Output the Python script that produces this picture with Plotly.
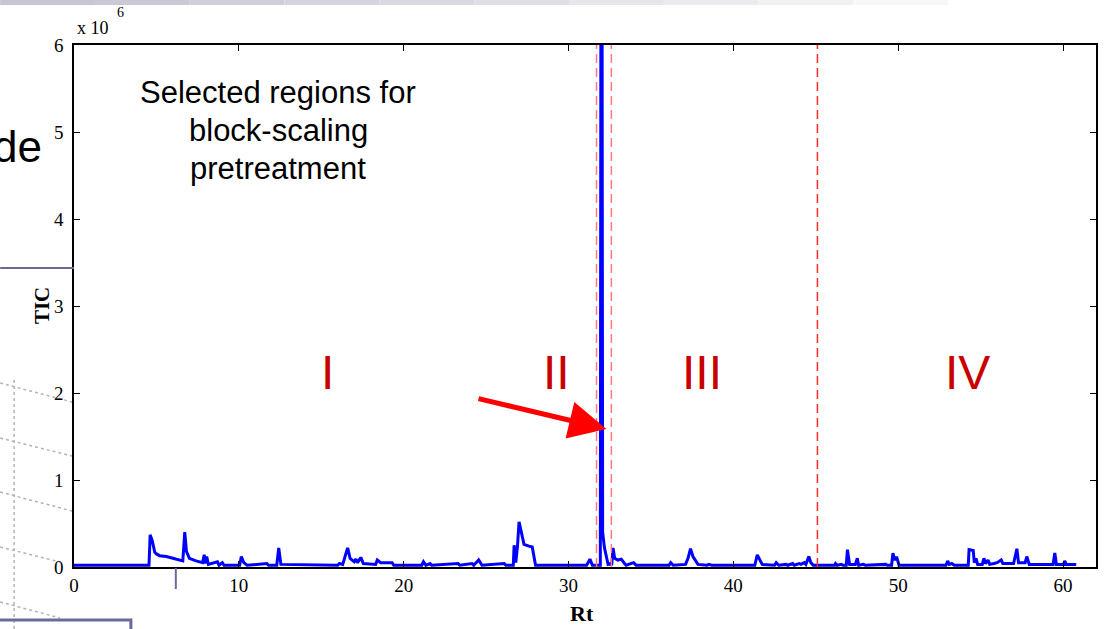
import plotly.graph_objects as go

# ---------------- data (TIC in units of 10^6) ----------------
rt_a = [0, 4.55, 4.62, 4.75, 4.9, 5.0, 5.2, 5.6, 6.0, 6.4, 6.6, 6.72, 6.82, 7.0, 7.4, 7.8,
        7.9, 7.97, 8.05, 8.15, 8.7, 8.8, 9.0, 9.1, 10.05, 10.15, 10.3, 10.5, 11.7, 11.8,
        12.3, 12.42, 12.55, 16.0]
tic_a = [0.02, 0.02, 0.37, 0.30, 0.17, 0.15, 0.13, 0.12, 0.10, 0.08, 0.07, 0.40, 0.18, 0.10, 0.07, 0.05,
         0.14, 0.04, 0.12, 0.03, 0.06, 0.02, 0.05, 0.02, 0.02, 0.12, 0.05, 0.02, 0.04, 0.02,
         0.02, 0.22, 0.03, 0.02]

rt_b = [16.1, 16.3, 16.6, 16.75, 17.0, 17.1, 17.2, 17.4, 17.55, 18.3, 18.4, 18.6, 19.3, 19.4,
        21.1, 21.2, 21.35, 21.6, 21.7, 23.3, 23.4, 24.15, 24.25, 24.55, 24.75, 26.1, 26.2,
        26.65, 26.7, 26.8, 26.9, 27.0, 27.15, 27.3, 27.6, 27.8, 28.0]
tic_b = [0.04, 0.03, 0.22, 0.10, 0.06, 0.09, 0.05, 0.11, 0.04, 0.03, 0.08, 0.05, 0.05, 0.02,
         0.02, 0.06, 0.02, 0.04, 0.02, 0.04, 0.02, 0.04, 0.02, 0.08, 0.02, 0.04, 0.02,
         0.02, 0.25, 0.05, 0.23, 0.52, 0.40, 0.26, 0.24, 0.23, 0.02]

rt_c = [31.1, 31.3, 31.45, 31.93, 31.97, 32.03, 32.07, 32.18, 32.4, 32.55, 32.62, 32.7, 32.8,
        33.0, 33.2, 33.4, 33.5, 33.95, 34.1]
tic_c = [0.02, 0.09, 0.02, 0.02, 7.5, 7.5, 0.40, 0.22, 0.03, 0.04, 0.02, 0.22, 0.10,
         0.08, 0.09, 0.04, 0.02, 0.05, 0.02]

rt_d = [36.1, 36.2, 36.35, 37.1, 37.25, 37.4, 37.55, 37.7, 37.85, 38.4, 38.5, 38.7, 41.3, 41.45,
        41.6, 41.75, 42.5, 42.6, 42.75, 43.2, 43.3, 43.6, 43.7, 44.0, 44.1, 44.3, 44.4, 44.58,
        44.7, 44.85]
tic_d = [0.02, 0.05, 0.02, 0.03, 0.10, 0.21, 0.12, 0.08, 0.03, 0.02, 0.03, 0.02, 0.02, 0.14,
         0.08, 0.03, 0.02, 0.05, 0.02, 0.03, 0.02, 0.04, 0.02, 0.04, 0.03, 0.05, 0.03, 0.12,
         0.05, 0.02]

rt_e = [46.15, 46.2, 46.3, 46.55, 46.65, 46.85, 46.92, 47.05, 47.4, 47.52, 47.6, 47.9, 48.0,
        49.25, 49.35, 49.6, 49.68, 49.8, 49.9, 50.05, 52.9, 53.0, 53.1, 53.25, 53.4, 54.25,
        54.3, 54.55, 54.62, 54.72, 54.82, 55.1, 55.2, 55.3, 55.45, 55.55, 55.8, 56.0, 56.25,
        56.35, 57.0, 57.2, 57.3, 57.7, 57.8, 57.95, 59.4, 59.5, 59.6, 60.05, 60.1, 60.2, 60.8]
tic_e = [0.02, 0.04, 0.02, 0.03, 0.02, 0.02, 0.20, 0.03, 0.03, 0.10, 0.02, 0.03, 0.02,
         0.03, 0.02, 0.02, 0.16, 0.08, 0.12, 0.02, 0.02, 0.07, 0.03, 0.04, 0.02, 0.02,
         0.20, 0.19, 0.05, 0.10, 0.03, 0.03, 0.10, 0.04, 0.08, 0.03, 0.04, 0.05, 0.08,
         0.04, 0.04, 0.21, 0.05, 0.05, 0.12, 0.03, 0.03, 0.16, 0.03, 0.03, 0.07, 0.03, 0.03]

rt = rt_a + rt_b + rt_c + rt_d + rt_e
tic = tic_a + tic_b + tic_c + tic_d + tic_e

region_bounds = [31.7, 32.6, 45.1]
region_labels = ["I", "II", "III", "IV"]
region_label_x = [15.4, 29.3, 38.1, 54.2]
region_label_y = 2.23

note_lines = ["Selected regions for", "block-scaling", "pretreatment"]

x_ticks = [0, 10, 20, 30, 40, 50, 60]
y_ticks = [0, 1, 2, 3, 4, 5, 6]

# ---------------- figure ----------------
W, H = 1109, 629
L, R, T, B = 74, 11, 45, 62
PW, PH = W - L - R, H - T - B


def px(x):
    return (x - L) / PW


def py(y):
    return (H - B - y) / PH


fig = go.Figure()
fig.add_trace(go.Scatter(x=rt, y=tic, mode="lines",
                         line=dict(color="#0000ff", width=3), showlegend=False,
                         hoverinfo="x+y"))

shapes = []
# region boundaries
bcolors = ["#ff7a7a", "#ff7a7a", "#ff2a2a"]
for xb, c in zip(region_bounds, bcolors):
    shapes.append(dict(type="line", xref="x", yref="paper", x0=xb, x1=xb, y0=0, y1=1,
                       line=dict(color=c, width=1.5, dash="9px,5px"), layer="above"))

# background slide decorations
grad = ["#c6c6d4", "#cacad7", "#cfcfda", "#d4d4de", "#d9d9e2", "#dfdfe6", "#e5e5ea",
        "#ebebef", "#f1f1f3", "#f7f7f8"]
seg = 95
for i, c in enumerate(grad):
    shapes.append(dict(type="rect", xref="paper", yref="paper", x0=px(i * seg), x1=px((i + 1) * seg),
                       y0=py(5), y1=py(0), line=dict(width=0), fillcolor=c, layer="below"))
shapes.append(dict(type="line", xref="paper", yref="paper", x0=px(0), x1=px(74), y0=py(268), y1=py(268),
                   line=dict(color="#6a6a98", width=2)))
shapes.append(dict(type="line", xref="paper", yref="paper", x0=px(176), x1=px(176), y0=py(568), y1=py(589),
                   line=dict(color="#6a6a98", width=2)))
shapes.append(dict(type="rect", xref="paper", yref="paper", x0=px(-3), x1=px(131), y0=py(640), y1=py(620),
                   line=dict(color="#6a6a98", width=3), fillcolor="rgba(0,0,0,0)"))
for (x0, y0, x1, y1) in [(0, 383, 72, 402), (0, 438, 72, 456), (0, 492, 72, 511),
                         (0, 547, 60, 562), (0, 602, 60, 618), (14, 380, 14, 629)]:
    shapes.append(dict(type="line", xref="paper", yref="paper", x0=px(x0), x1=px(x1),
                       y0=py(y0), y1=py(y1), line=dict(color="#b4b4b4", width=1.5, dash="dot"),
                       layer="below"))

annotations = []
for line_text, ly in zip(note_lines, [92, 130, 168]):
    annotations.append(dict(text=line_text, x=px(278.5), y=py(ly), xref="paper", yref="paper",
                            showarrow=False, xanchor="center", yanchor="middle",
                            font=dict(family="Liberation Sans, Arial", size=31, color="black")))
for lab, lx in zip(region_labels, region_label_x):
    annotations.append(dict(text=lab, x=lx, y=region_label_y, xref="x", yref="y", showarrow=False,
                            xanchor="center", yanchor="middle",
                            font=dict(family="Liberation Sans, Arial", size=48, color="#c80000")))
annotations.append(dict(text="", x=32.3, y=1.586, ax=24.45, ay=1.94, xref="x", yref="y",
                        axref="x", ayref="y", showarrow=True, arrowhead=2, arrowsize=1.5,
                        arrowwidth=5, arrowcolor="#ff0000"))
annotations.append(dict(text="x 10", x=px(75), y=py(28), xref="paper", yref="paper", showarrow=False,
                        xanchor="left", yanchor="middle",
                        font=dict(family="Liberation Serif, Times New Roman", size=18, color="black")))
annotations.append(dict(text="6", x=px(115), y=py(13), xref="paper", yref="paper", showarrow=False,
                        xanchor="left", yanchor="middle",
                        font=dict(family="Liberation Serif, Times New Roman", size=14, color="black")))
annotations.append(dict(text="<b>TIC</b>", x=px(42), y=py(306), xref="paper", yref="paper",
                        showarrow=False, textangle=-90, xanchor="center", yanchor="middle",
                        font=dict(family="Liberation Serif, Times New Roman", size=21, color="black")))
annotations.append(dict(text="<b>Rt</b>", x=px(583), y=py(613), xref="paper", yref="paper",
                        showarrow=False, xanchor="center", yanchor="middle",
                        font=dict(family="Liberation Serif, Times New Roman", size=22, color="black")))
annotations.append(dict(text="de", x=px(44), y=py(146), xref="paper", yref="paper", showarrow=False,
                        xanchor="right", yanchor="middle",
                        font=dict(family="Liberation Sans, Arial", size=44, color="black")))

axis_common = dict(showgrid=False, zeroline=False, showline=True, linecolor="black", linewidth=1.5,
                   mirror="ticks", ticks="inside", ticklen=6, tickcolor="black", tickwidth=1,
                   tickfont=dict(family="Liberation Serif, Times New Roman", size=19, color="black"))

fig.update_layout(
    width=W, height=H,
    margin=dict(l=L, r=R, t=T, b=B, pad=0),
    paper_bgcolor="white", plot_bgcolor="white",
    xaxis=dict(range=[0, 62], tickvals=x_ticks, ticktext=[str(v) for v in x_ticks],
               ticklabelstandoff=0, **axis_common),
    yaxis=dict(range=[0, 6], tickvals=y_ticks, ticktext=[str(v) for v in y_ticks],
               ticklabelstandoff=5, **axis_common),
    shapes=shapes, annotations=annotations, showlegend=False,
)

fig.write_html("out.html", config={"displayModeBar": False},
               post_script="document.body.style.margin='0px';document.body.style.overflow='hidden';")
